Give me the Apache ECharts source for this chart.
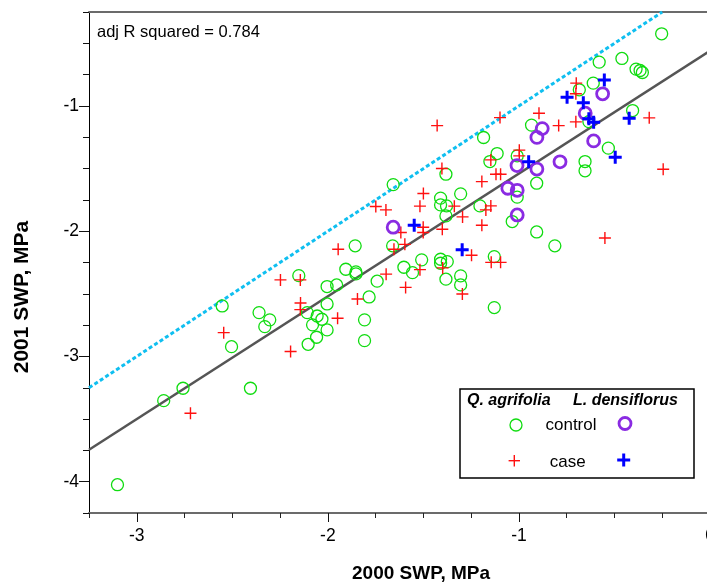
<!DOCTYPE html>
<html><head><meta charset="utf-8">
<script src="https://cdn.jsdelivr.net/npm/echarts@6/dist/echarts.min.js"></script>
<style>html,body{margin:0;padding:0;background:#fff}#c{width:707px;height:582px}</style>
</head><body><div id="c"></div>
<script>
// ---- data ----
const xMajorTicks = [-3, -2, -1, 0];
const xMinorTicks = [-3.25, -3, -2.75, -2.5, -2.25, -2, -1.75, -1.5, -1.25, -1, -0.75, -0.5, -0.25, 0];
const yMajorTicks = [-4, -3, -2, -1];
const yMinorTicks = [-4.25, -4, -3.75, -3.5, -3.25, -3, -2.75, -2.5, -2.25, -2, -1.75, -1.5, -1.25, -1, -0.75, -0.5, -0.25];

const agrifoliaControl = [
  [-1.658,-1.628],[-1.857,-2.117],[-1.661,-2.117],[-0.253,-0.424],[-0.580,-0.650],[-0.461,-0.621],
  [-0.387,-0.706],[-0.366,-0.717],[-0.354,-0.733],[-0.611,-0.818],[-0.684,-0.871],[-0.634,-1.125],
  [-0.405,-1.037],[-0.934,-1.153],[-1.185,-1.252],[-0.532,-1.337],[-0.654,-1.444],[-0.654,-1.518],
  [-1.114,-1.380],[-1.009,-1.399],[-1.152,-1.444],[-1.382,-1.545],[-0.907,-1.617],[-1.009,-1.728],
  [-1.305,-1.702],[-1.410,-1.736],[-1.410,-1.790],[-1.379,-1.798],[-1.204,-1.798],[-1.382,-1.878],
  [-1.035,-1.923],[-0.907,-2.006],[-0.812,-2.117],[-1.129,-2.203],[-1.509,-2.229],[-1.410,-2.224],
  [-1.375,-2.243],[-1.410,-2.256],[-1.602,-2.288],[-1.557,-2.331],[-1.742,-2.399],[-1.382,-2.383],
  [-1.305,-2.357],[-1.305,-2.429],[-1.129,-2.610],[-2.152,-2.355],[-1.906,-2.304],[-1.853,-2.325],
  [-1.853,-2.341],[-2.004,-2.442],[-1.954,-2.429],[-1.784,-2.525],[-2.004,-2.581],[-2.108,-2.650],
  [-2.056,-2.677],[-2.031,-2.703],[-2.080,-2.748],[-2.004,-2.788],[-2.059,-2.847],[-2.103,-2.903],
  [-1.808,-2.708],[-1.808,-2.874],[-2.360,-2.650],[-2.304,-2.708],[-2.330,-2.762],[-2.553,-2.597],
  [-2.504,-2.922],[-2.405,-3.254],[-2.758,-3.254],[-2.859,-3.353],[-3.101,-4.024]
];
const agrifoliaCase = [
  [-1.749,-1.803],[-1.696,-1.830],[-1.946,-2.144],[-1.654,-2.144],[-0.700,-0.818],[-0.702,-0.903],
  [-0.318,-1.095],[-0.702,-1.127],[-0.792,-1.157],[-0.895,-1.058],[-1.099,-1.093],[-1.428,-1.157],
  [-0.245,-1.505],[-0.998,-1.353],[-0.998,-1.399],[-1.147,-1.431],[-1.403,-1.500],[-1.120,-1.545],
  [-1.096,-1.545],[-1.194,-1.604],[-1.500,-1.699],[-1.518,-1.800],[-1.338,-1.800],[-1.147,-1.798],
  [-1.173,-1.830],[-1.295,-1.886],[-1.194,-1.952],[-1.618,-2.010],[-1.501,-1.968],[-1.501,-2.011],
  [-1.401,-1.984],[-1.597,-2.105],[-0.550,-2.054],[-1.248,-2.192],[-1.145,-2.249],[-1.096,-2.249],
  [-1.399,-2.293],[-1.518,-2.307],[-1.695,-2.343],[-1.593,-2.449],[-1.296,-2.502],[-2.248,-2.389],
  [-2.144,-2.389],[-1.845,-2.541],[-2.143,-2.573],[-2.144,-2.626],[-1.949,-2.695],[-2.195,-2.960],
  [-2.545,-2.810],[-2.719,-3.454]
];
const densiflorusControl = [
  [-1.658,-1.968],[-0.562,-0.903],[-0.653,-1.058],[-0.878,-1.181],[-0.906,-1.251],[-0.609,-1.279],
  [-0.785,-1.446],[-1.010,-1.476],[-0.906,-1.504],[-1.058,-1.657],[-1.009,-1.674],[-1.009,-1.870]
];
const densiflorusCase = [
  [-0.553,-0.792],[-0.748,-0.931],[-0.663,-0.975],[-0.634,-1.103],[-0.609,-1.131],[-0.423,-1.099],
  [-0.496,-1.409],[-0.949,-1.446],[-1.548,-1.952],[-1.297,-2.148]
];
const fitLine = [[-3.25, -3.745], [0, -0.56]];
const oneToOneLine = [[-3.25, -3.25], [-0.25, -0.25]];
const annotationText = 'adj R squared = 0.784';
const xTitle = '2000 SWP, MPa';
const yTitle = '2001 SWP, MPa';

// ---- styles ----
const FONT = '"Liberation Sans", Arial, sans-serif';
const GREEN = '#10dc10', RED = '#ff1010', PURPLE = '#8a2be2', BLUE = '#0000ff';
const PLUS = 'path://M5,0L5,10M0,5L10,5';

const chart = echarts.init(document.getElementById('c'), null, {renderer: 'canvas'});
const axisBase = {type: 'value', min: -3.25, max: 0, splitLine: {show: false}};
const yBase = {type: 'value', min: -4.25, max: -0.25, splitLine: {show: false}};

function scatter(name, data, symbol, size, color, width, z) {
  return {
    name, type: 'scatter', data, symbol, symbolSize: size, z,
    itemStyle: {color: 'rgba(0,0,0,0)', borderColor: color, borderWidth: width, opacity: 1},
    emphasis: {disabled: true}
  };
}

chart.setOption({
  animation: false,
  backgroundColor: '#fff',
  grid: {left: 89, top: 12, width: 621, height: 501, containLabel: false, outerBoundsMode: 'none'},
  xAxis: [
    Object.assign({}, axisBase, {position: 'bottom',
      axisLine: {show: true, onZero: false, lineStyle: {color: '#6b6b6b', width: 2}},
      axisTick: {show: true, customValues: xMinorTicks, length: 5, lineStyle: {color: '#222', width: 1}},
      axisLabel: {show: false}}),
    Object.assign({}, axisBase, {position: 'bottom',
      axisLine: {show: false, onZero: false},
      axisTick: {show: true, customValues: xMajorTicks, length: 9, lineStyle: {color: '#111', width: 1}},
      axisLabel: {show: true, customValues: xMajorTicks, margin: 14, fontSize: 17.5, color: '#000', fontFamily: FONT}}),
    Object.assign({}, axisBase, {position: 'top',
      axisLine: {show: true, onZero: false, lineStyle: {color: '#6b6b6b', width: 2}},
      axisTick: {show: false}, axisLabel: {show: false}})
  ],
  yAxis: [
    Object.assign({}, yBase, {position: 'left',
      axisLine: {show: true, onZero: false, lineStyle: {color: '#000', width: 1}},
      axisTick: {show: true, customValues: yMinorTicks, length: 6, lineStyle: {color: '#111', width: 1}},
      axisLabel: {show: false}}),
    Object.assign({}, yBase, {position: 'left',
      axisLine: {show: false, onZero: false},
      axisTick: {show: true, customValues: yMajorTicks, length: 10, lineStyle: {color: '#111', width: 1}},
      axisLabel: {show: true, customValues: yMajorTicks, margin: 10, fontSize: 17.5, color: '#000', fontFamily: FONT}})
  ],
  series: [
    {name: '1:1', type: 'line', data: oneToOneLine, symbol: 'none', z: 1,
     lineStyle: {color: '#10bff0', width: 3, type: [4, 2.5]}, emphasis: {disabled: true}},
    {name: 'fit', type: 'line', data: fitLine, symbol: 'none', z: 1,
     lineStyle: {color: '#555555', width: 2.5}, emphasis: {disabled: true}},
    scatter('Q. agrifolia control', agrifoliaControl, 'circle', 12, GREEN, 1.3, 2),
    scatter('Q. agrifolia case', agrifoliaCase, PLUS, 12, RED, 1.4, 3),
    scatter('L. densiflorus control', densiflorusControl, 'circle', 12, PURPLE, 2.8, 4),
    scatter('L. densiflorus case', densiflorusCase, PLUS, 13, BLUE, 3, 5)
  ],
  graphic: [
    {type: 'text', left: 97, top: 24, z: 10,
     style: {text: annotationText, font: '16.5px ' + FONT, fill: '#000'}},
    {type: 'text', x: 421, y: 574, z: 10,
     style: {text: xTitle, font: 'bold 19px ' + FONT, fill: '#000', align: 'center', verticalAlign: 'middle'}},
    {type: 'text', x: 22, y: 297, rotation: Math.PI / 2, z: 10,
     style: {text: yTitle, font: 'bold 21px ' + FONT, fill: '#000', align: 'center', verticalAlign: 'middle'}},
    // legend box
    {type: 'rect', shape: {x: 460, y: 389, width: 234, height: 89}, z: 10,
     style: {fill: '#fff', stroke: '#000', lineWidth: 1.5}},
    {type: 'text', x: 467, y: 401, z: 11,
     style: {text: 'Q. agrifolia', font: 'italic bold 16px ' + FONT, fill: '#000', verticalAlign: 'middle'}},
    {type: 'text', x: 573, y: 401, z: 11,
     style: {text: 'L. densiflorus', font: 'italic bold 16px ' + FONT, fill: '#000', verticalAlign: 'middle'}},
    {type: 'circle', shape: {cx: 516, cy: 425, r: 6}, z: 11,
     style: {fill: 'none', stroke: GREEN, lineWidth: 1.3}},
    {type: 'text', x: 571, y: 425, z: 11,
     style: {text: 'control', font: '17px ' + FONT, fill: '#000', align: 'center', verticalAlign: 'middle'}},
    {type: 'circle', shape: {cx: 625, cy: 423.5, r: 6}, z: 11,
     style: {fill: 'none', stroke: PURPLE, lineWidth: 2.8}},
    {type: 'polyline', shape: {points: [[514.3, 455], [514.3, 466.4]]}, z: 11, style: {stroke: RED, lineWidth: 1.4}},
    {type: 'polyline', shape: {points: [[508.6, 460.7], [520, 460.7]]}, z: 11, style: {stroke: RED, lineWidth: 1.4}},
    {type: 'text', x: 567.7, y: 462, z: 11,
     style: {text: 'case', font: '17px ' + FONT, fill: '#000', align: 'center', verticalAlign: 'middle'}},
    {type: 'polyline', shape: {points: [[623.7, 453.5], [623.7, 466.5]]}, z: 11, style: {stroke: BLUE, lineWidth: 3}},
    {type: 'polyline', shape: {points: [[617.2, 460], [630.2, 460]]}, z: 11, style: {stroke: BLUE, lineWidth: 3}}
  ]
});
</script></body></html>
